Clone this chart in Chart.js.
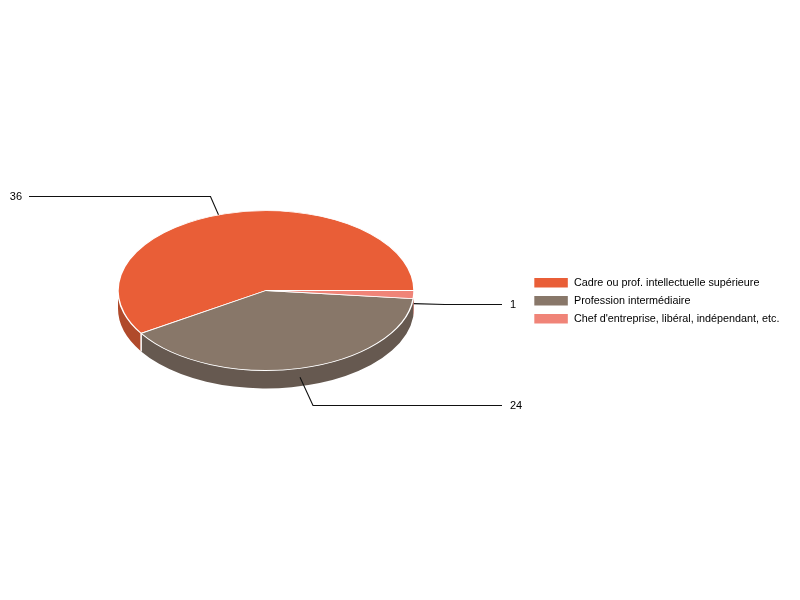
<!DOCTYPE html>
<html>
<head>
<meta charset="utf-8">
<style>
  html, body { margin: 0; padding: 0; background: #fff; }
  #wrap { width: 800px; height: 600px; }
</style>
<script src="https://cdn.jsdelivr.net/npm/chart.js@4"></script>
</head>
<body>
<div id="wrap"><canvas id="chart"></canvas></div>
<script>
const categories = ["Cadre ou prof. intellectuelle supérieure", "Profession intermédiaire", "Chef d'entreprise, libéral, indépendant, etc."]
const counts = [36, 24, 1]

const sliceColors = ["#e95e37", "#887769", "#f08478"]
const sideColors = ["#b04a2b", "#665950", "#b86458"]

// pie is squashed and moved by hand to fake the 3D look
const PIE_X = 266
const PIE_Y = 290.5
const RADIUS = 148
const SQUASH = 0.54
const DEPTH = 18

// leader lines: elbow offset from the rim, then a horizontal run to the label
const leaderElbow = [[-8, -19], [13, 28], [31, 0]]
const leaderNudge = [2.5, 0, 0] // degrees
const LEFT_END = 29
const RIGHT_END = 502
const TAU = Math.PI * 2

const fake3d = {
  id: "fake3d",
  beforeDatasetsDraw(chart) {
    const ctx = chart.ctx
    const arcs = chart.getDatasetMeta(0).data
    const ry = RADIUS * SQUASH

    ctx.save()
    arcs.forEach((arc, i) => {
      // only the part of the rim facing the viewer (angles are flipped on screen)
      const a = Math.max(arc.startAngle, Math.PI)
      const b = Math.min(arc.endAngle, TAU)
      if (b <= a) return
      ctx.beginPath()
      ctx.ellipse(PIE_X, PIE_Y, RADIUS, ry, 0, TAU - b, TAU - a)
      ctx.ellipse(PIE_X, PIE_Y + DEPTH, RADIUS, ry, 0, TAU - a, TAU - b, true)
      ctx.closePath()
      ctx.fillStyle = sideColors[i]
      ctx.fill()
    })
    // white seam on the rim between slices, not on the tiny one at the edge
    arcs.forEach((arc) => {
      const a = arc.startAngle
      if (a <= Math.PI || a >= TAU || arc.circumference < 0.2) return
      const x = PIE_X + RADIUS * Math.cos(a)
      const y = PIE_Y - ry * Math.sin(a)
      ctx.beginPath()
      ctx.moveTo(x, y)
      ctx.lineTo(x, y + DEPTH)
      ctx.strokeStyle = "#fff"
      ctx.lineWidth = 1.5
      ctx.stroke()
    })
    ctx.restore()

    const c = arcs[0].getProps(["x", "y"])
    ctx.save()
    ctx.translate(PIE_X, PIE_Y)
    ctx.scale(1, -SQUASH)
    ctx.translate(-c.x, -c.y)
  },
  afterDatasetsDraw(chart) {
    chart.ctx.restore()
  },
  afterDraw(chart) {
    const ctx = chart.ctx
    const ry = RADIUS * SQUASH
    ctx.save()
    ctx.strokeStyle = "#111"
    ctx.lineWidth = 1.1
    ctx.fillStyle = "#000"
    ctx.font = '11px "Liberation Sans"'
    ctx.textBaseline = "middle"
    chart.getDatasetMeta(0).data.forEach((arc, i) => {
      const mid = (arc.startAngle + arc.endAngle) / 2 + leaderNudge[i] * Math.PI / 180
      const sin = Math.sin(mid)
      const x0 = PIE_X + RADIUS * Math.cos(mid)
      const y0 = PIE_Y - ry * sin + (sin < 0 ? DEPTH / 2 : 0)
      const ex = x0 + leaderElbow[i][0]
      const ey = Math.round(y0 + leaderElbow[i][1]) + 0.5
      const onLeft = x0 < PIE_X && sin > 0
      const endX = onLeft ? LEFT_END : RIGHT_END
      ctx.beginPath()
      ctx.moveTo(x0, y0)
      ctx.lineTo(ex, ey)
      ctx.lineTo(endX, ey)
      ctx.stroke()
      ctx.textAlign = onLeft ? "right" : "left"
      ctx.fillText(String(counts[i]), endX + (onLeft ? -7 : 8), ey)
    })
    ctx.restore()
  }
}

new Chart(document.getElementById("chart"), {
  type: "pie",
  data: {
    labels: categories,
    datasets: [{
      data: counts,
      backgroundColor: sliceColors,
      borderColor: "#fff",
      borderWidth: 1.5,
      radius: RADIUS,
      clip: false
    }]
  },
  options: {
    responsive: true,
    maintainAspectRatio: false,
    animation: false,
    events: [],
    rotation: 90,
    layout: { padding: { right: 10.5, top: 1.5 } },
    plugins: {
      tooltip: { enabled: false },
      legend: {
        position: "right",
        labels: {
          boxWidth: 35,
          boxHeight: 11,
          padding: 7,
          color: "#000",
          font: { size: 10.8, family: '"Liberation Sans"' }
        }
      }
    }
  },
  plugins: [fake3d]
})
</script>
</body>
</html>
